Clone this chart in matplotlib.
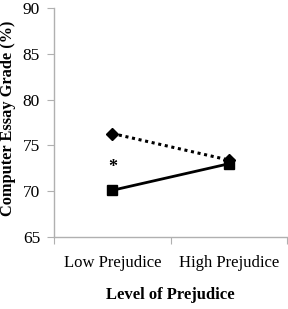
import matplotlib
matplotlib.use("Agg")
import matplotlib.pyplot as plt

categories = ["Low Prejudice", "High Prejudice"]
diamond_vals = [76.3, 73.4]
square_vals = [70.1, 73.0]
star_val = 73.0

plt.rcParams['font.family'] = ['Liberation Serif', 'DejaVu Serif']

fig = plt.figure(figsize=(2.88, 3.09), dpi=100)
ax = fig.add_axes([0.1875, 0.233, 0.81, 0.741])

x = [0.5, 1.5]
ax.plot(x, diamond_vals, color='black', linestyle=(0, (1, 1.2)), linewidth=2.2,
        marker='D', markersize=6.5)
ax.plot(x, square_vals, color='black', linestyle='-', linewidth=2,
        marker='s', markersize=7.5)
# significance star, nudged so the glyph sits on the value
ax.annotate("*", (x[0], star_val), xytext=(0, -3), textcoords='offset points',
            ha='center', va='center', fontsize=13, fontweight='bold')

ax.set_xlim(0, 2)
ax.set_ylim(65, 90)
ax.set_yticks([65, 70, 75, 80, 85, 90])
ax.set_xticks([0, 1, 2])
ax.set_xticklabels([])
ax.set_xticks(x, minor=True)
ax.set_xticklabels(categories, minor=True)
ax.tick_params(axis='x', which='minor', length=0, pad=13, labelsize=12)
ax.tick_params(axis='x', which='major', length=5, color='#b0b0b0', direction='out')
ax.tick_params(axis='y', length=5, color='#b0b0b0', labelsize=12.5, pad=5)

for s in ['top', 'right']:
    ax.spines[s].set_visible(False)
for s in ['left', 'bottom']:
    ax.spines[s].set_color('#b0b0b0')
    ax.spines[s].set_linewidth(1)

ax.set_xlabel("Level of Prejudice", fontsize=12, fontweight='bold')
ax.xaxis.set_label_coords(0.5, -0.22)
ax.set_ylabel("Computer Essay Grade (%)", fontsize=11.8, fontweight='bold')
ax.yaxis.set_label_coords(-0.165, 0.52)

fig.savefig("out.png", dpi=100)
